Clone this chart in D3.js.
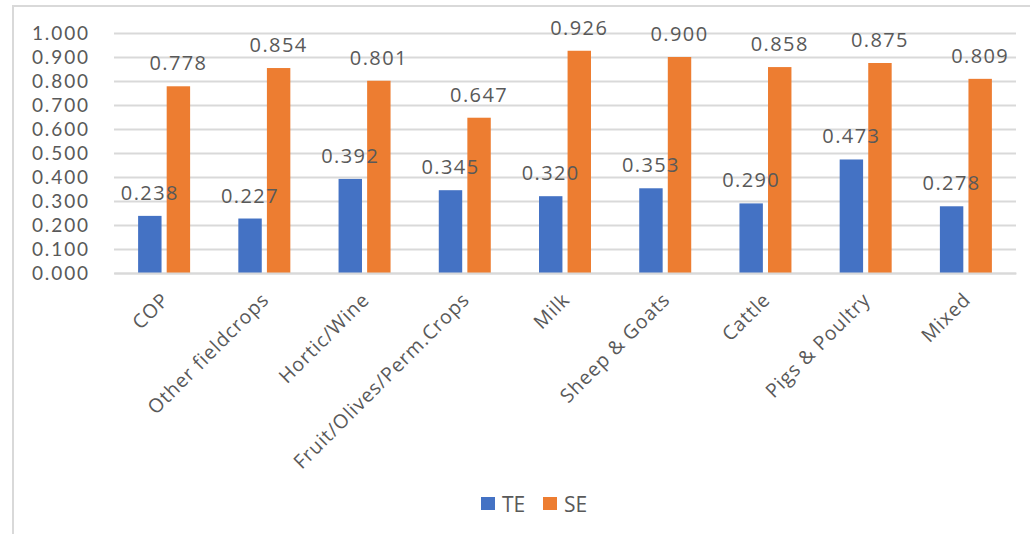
<!DOCTYPE html>
<html>
<head>
<meta charset="utf-8">
<script src="https://cdn.jsdelivr.net/npm/d3@7"></script>
<style>
  html, body { margin: 0; padding: 0; background: #fff; }
  svg { display: block; }
  text { font-family: "Open Sans", "DejaVu Sans", sans-serif; fill: #595959; }
</style>
</head>
<body>
<svg id="chart" width="1030" height="534"></svg>
<script>
// Farm types and efficiency scores
const categories = ["COP", "Other fieldcrops", "Hortic/Wine", "Fruit/Olives/Perm.Crops",
  "Milk", "Sheep & Goats", "Cattle", "Pigs & Poultry", "Mixed"];
const seriesNames = ["TE", "SE"];
const teValues = [0.238, 0.227, 0.392, 0.345, 0.320, 0.353, 0.290, 0.473, 0.278];
const seValues = [0.778, 0.854, 0.801, 0.647, 0.926, 0.900, 0.858, 0.875, 0.809];
const yTicks = [0, 0.1, 0.2, 0.3, 0.4, 0.5, 0.6, 0.7, 0.8, 0.9, 1.0];
const colors = { TE: "#4472C4", SE: "#ED7D31" };

const rows = categories.map((c, i) => ({ cat: c, TE: teValues[i], SE: seValues[i] }));

const svg = d3.select("#chart");

// Chart frame
svg.append("rect")
  .attr("x", 13).attr("y", 6)
  .attr("width", 1040).attr("height", 560)
  .attr("fill", "none").attr("stroke", "#d9d9d9").attr("stroke-width", 2);

const plot = { left: 114, right: 1016, top: 33, bottom: 273 };

const x0 = d3.scaleBand().domain(categories).range([plot.left, plot.right]);
const x1 = d3.scaleBand().domain(seriesNames)
  .range([x0.bandwidth() / 2 - 26, x0.bandwidth() / 2 + 26]).paddingInner(0.18);
const y = d3.scaleLinear().domain([0, 1]).range([plot.bottom, plot.top]);

// Gridlines and value axis labels
const yAxis = d3.axisLeft(y).tickValues(yTicks).tickFormat(d3.format(".3f"))
  .tickSize(-(plot.right - plot.left)).tickPadding(24);
const yg = svg.append("g").attr("transform", `translate(${plot.left},0)`).call(yAxis);
yg.select(".domain").remove();
yg.selectAll(".tick line").attr("stroke", "#d9d9d9").attr("stroke-width", 2);
yg.selectAll(".tick text")
  .attr("font-size", 19).attr("letter-spacing", "1.9px")
  .style("font-family", "Lato, 'Open Sans', sans-serif").attr("fill", "#595959");

// Bars
const groups = svg.append("g").selectAll("g").data(rows).join("g")
  .attr("transform", d => `translate(${x0(d.cat)},0)`);

groups.selectAll("rect").data(d => seriesNames.map(k => ({ key: k, value: d[k] })))
  .join("rect")
  .attr("x", d => x1(d.key))
  .attr("width", x1.bandwidth())
  .attr("y", d => y(d.value))
  .attr("height", d => y(0) - y(d.value))
  .attr("fill", d => colors[d.key]);

// Value labels
groups.selectAll("text.val").data(d => seriesNames.map(k => ({ key: k, value: d[k] })))
  .join("text").attr("class", "val")
  .attr("x", d => x1(d.key) + x1.bandwidth() / 2)
  .attr("y", d => y(d.value) - 16)
  .attr("text-anchor", "middle")
  .attr("font-size", 20).attr("letter-spacing", "1.4px")
  .text(d => d3.format(".3f")(d.value));

// Category labels
const xg = svg.append("g").attr("transform", `translate(0,${plot.bottom})`)
  .call(d3.axisBottom(x0).tickSize(0).tickPadding(0));
xg.select(".domain").attr("stroke", "#d9d9d9").attr("stroke-width", 2);
xg.selectAll(".tick text")
  .attr("font-size", 19.5).attr("letter-spacing", "0.9px")
  .attr("text-anchor", "end")
  .attr("y", 0).attr("dy", 0)
  .attr("transform", "translate(6,28) rotate(-45)")
  .style("font-family", "'Open Sans', sans-serif").attr("fill", "#595959");

// Legend
const legend = svg.append("g").attr("transform", "translate(481,497)");
const items = legend.selectAll("g").data(seriesNames).join("g")
  .attr("transform", (d, i) => `translate(${i * 62},0)`);
items.append("rect").attr("width", 14).attr("height", 13).attr("fill", d => colors[d]);
items.append("text").attr("x", 21).attr("y", 15)
  .attr("font-size", 21).text(d => d);
</script>
</body>
</html>
